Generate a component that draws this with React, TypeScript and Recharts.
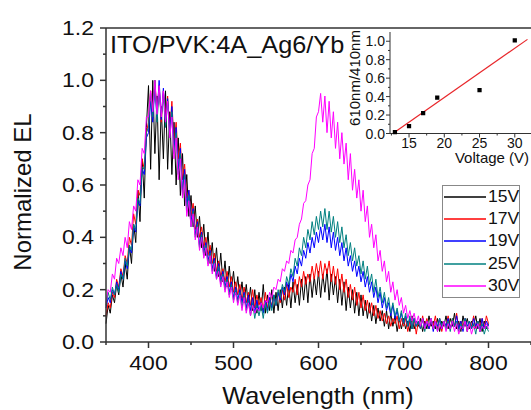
import React from "react";
import { LineChart, Line, XAxis, YAxis, Legend, Label, ReferenceLine, ComposedChart, Scatter, ZAxis } from "recharts";

const FONT = "'Liberation Sans', Arial, sans-serif";
const AXIS = "#333";
const TXT = "#111";

// wavelength grid, 2.5 nm steps (350 - 800 nm)
const wavelength = Array.from({ length: 181 }, (_, i) => 350 + i * 2.5);

const el15V = [
  0.07, 0.14, 0.11, 0.18, 0.15, 0.22, 0.18, 0.26, 0.21, 0.3, 0.24, 0.37, 0.3, 0.45, 0.38, 0.58, 0.46, 0.7, 0.55, 0.82,
  0.98, 0.66, 1.0, 0.72, 0.94, 0.62, 0.9, 0.7, 0.96, 0.66, 0.88, 0.64, 0.84, 0.6, 0.78, 0.56, 0.72, 0.52, 0.64, 0.48,
  0.56, 0.44, 0.52, 0.4, 0.48, 0.36, 0.45, 0.33, 0.42, 0.3, 0.38, 0.27, 0.36, 0.25, 0.34, 0.23, 0.31, 0.21, 0.29, 0.2,
  0.27, 0.18, 0.25, 0.17, 0.23, 0.15, 0.22, 0.14, 0.21, 0.12, 0.2, 0.11, 0.19, 0.12, 0.22, 0.11, 0.18, 0.12, 0.2, 0.11,
  0.19, 0.12, 0.2, 0.13, 0.21, 0.14, 0.22, 0.13, 0.23, 0.15, 0.22, 0.14, 0.24, 0.16, 0.25, 0.15, 0.26, 0.17, 0.25, 0.18,
  0.27, 0.17, 0.26, 0.19, 0.28, 0.16, 0.26, 0.18, 0.25, 0.15, 0.24, 0.14, 0.23, 0.12, 0.21, 0.13, 0.2, 0.11, 0.19, 0.1,
  0.18, 0.1, 0.16, 0.09, 0.15, 0.08, 0.14, 0.07, 0.13, 0.08, 0.12, 0.06, 0.12, 0.05, 0.11, 0.06, 0.1, 0.04, 0.09, 0.05,
  0.09, 0.05, 0.08, 0.04, 0.1, 0.05, 0.08, 0.06, 0.09, 0.04, 0.08, 0.05, 0.1, 0.06, 0.08, 0.05, 0.09, 0.04, 0.08, 0.06,
  0.1, 0.05, 0.09, 0.06, 0.11, 0.05, 0.08, 0.04, 0.1, 0.06, 0.09, 0.05, 0.08, 0.06, 0.1, 0.05, 0.09, 0.04, 0.08, 0.05,
  0.07,
];
const el17V = [
  0.1, 0.15, 0.13, 0.19, 0.17, 0.24, 0.21, 0.28, 0.25, 0.33, 0.3, 0.4, 0.37, 0.49, 0.45, 0.58, 0.56, 0.7, 0.66, 0.8,
  0.84, 0.96, 0.86, 1.0, 0.88, 0.98, 0.84, 0.96, 0.86, 0.94, 0.8, 0.92, 0.76, 0.84, 0.7, 0.76, 0.62, 0.68, 0.55, 0.58,
  0.48, 0.53, 0.43, 0.47, 0.4, 0.44, 0.36, 0.4, 0.33, 0.37, 0.3, 0.34, 0.27, 0.31, 0.25, 0.28, 0.23, 0.27, 0.21, 0.25,
  0.19, 0.23, 0.18, 0.22, 0.16, 0.21, 0.15, 0.19, 0.14, 0.2, 0.13, 0.18, 0.14, 0.17, 0.12, 0.19, 0.13, 0.17, 0.14, 0.18,
  0.14, 0.19, 0.15, 0.2, 0.16, 0.22, 0.17, 0.21, 0.19, 0.24, 0.18, 0.25, 0.21, 0.27, 0.22, 0.26, 0.23, 0.29, 0.24, 0.3,
  0.25, 0.31, 0.24, 0.3, 0.26, 0.31, 0.23, 0.29, 0.22, 0.28, 0.2, 0.26, 0.19, 0.24, 0.17, 0.22, 0.16, 0.21, 0.14, 0.19,
  0.13, 0.18, 0.12, 0.16, 0.11, 0.15, 0.1, 0.14, 0.09, 0.12, 0.08, 0.11, 0.07, 0.1, 0.06, 0.09, 0.07, 0.1, 0.05, 0.09,
  0.06, 0.09, 0.04, 0.08, 0.05, 0.09, 0.03, 0.08, 0.05, 0.1, 0.06, 0.09, 0.05, 0.08, 0.06, 0.1, 0.05, 0.09, 0.04, 0.08,
  0.06, 0.1, 0.05, 0.09, 0.06, 0.11, 0.05, 0.08, 0.06, 0.09, 0.04, 0.08, 0.06, 0.1, 0.05, 0.08, 0.06, 0.09, 0.05, 0.1,
  0.07,
];
const el19V = [
  0.13, 0.17, 0.15, 0.2, 0.18, 0.23, 0.2, 0.27, 0.24, 0.31, 0.28, 0.36, 0.34, 0.44, 0.42, 0.54, 0.52, 0.66, 0.64, 0.78,
  0.8, 0.92, 0.84, 0.98, 0.86, 1.0, 0.85, 0.97, 0.84, 0.93, 0.8, 0.9, 0.74, 0.82, 0.66, 0.74, 0.58, 0.66, 0.52, 0.58,
  0.46, 0.51, 0.41, 0.46, 0.37, 0.42, 0.34, 0.38, 0.31, 0.35, 0.28, 0.32, 0.25, 0.3, 0.23, 0.27, 0.21, 0.25, 0.19, 0.23,
  0.17, 0.21, 0.16, 0.2, 0.15, 0.19, 0.13, 0.18, 0.12, 0.17, 0.11, 0.16, 0.12, 0.15, 0.11, 0.16, 0.12, 0.17, 0.13, 0.18,
  0.14, 0.19, 0.16, 0.21, 0.18, 0.23, 0.2, 0.26, 0.23, 0.29, 0.26, 0.32, 0.29, 0.35, 0.32, 0.38, 0.34, 0.4, 0.36, 0.42,
  0.38, 0.44, 0.39, 0.45, 0.38, 0.44, 0.36, 0.42, 0.35, 0.4, 0.33, 0.38, 0.31, 0.36, 0.29, 0.33, 0.27, 0.31, 0.25, 0.29,
  0.23, 0.27, 0.21, 0.25, 0.19, 0.23, 0.17, 0.21, 0.15, 0.19, 0.13, 0.17, 0.12, 0.15, 0.1, 0.14, 0.09, 0.12, 0.08, 0.11,
  0.07, 0.1, 0.06, 0.09, 0.05, 0.09, 0.06, 0.08, 0.05, 0.09, 0.06, 0.08, 0.05, 0.09, 0.04, 0.08, 0.06, 0.09, 0.05, 0.08,
  0.06, 0.09, 0.05, 0.08, 0.06, 0.1, 0.05, 0.08, 0.04, 0.09, 0.06, 0.08, 0.05, 0.09, 0.06, 0.08, 0.04, 0.09, 0.05, 0.08,
  0.06,
];
const el25V = [
  0.14, 0.19, 0.16, 0.21, 0.18, 0.22, 0.19, 0.26, 0.24, 0.32, 0.29, 0.37, 0.35, 0.45, 0.43, 0.55, 0.53, 0.67, 0.66, 0.8,
  0.82, 0.95, 0.86, 1.0, 0.84, 0.96, 0.86, 0.94, 0.82, 0.92, 0.78, 0.88, 0.72, 0.8, 0.64, 0.72, 0.56, 0.64, 0.5, 0.56,
  0.44, 0.5, 0.4, 0.45, 0.36, 0.41, 0.33, 0.37, 0.3, 0.34, 0.27, 0.31, 0.24, 0.29, 0.22, 0.26, 0.2, 0.24, 0.18, 0.22,
  0.16, 0.2, 0.15, 0.19, 0.13, 0.18, 0.12, 0.16, 0.1, 0.15, 0.09, 0.14, 0.1, 0.14, 0.09, 0.15, 0.11, 0.16, 0.12, 0.18,
  0.14, 0.2, 0.17, 0.22, 0.19, 0.25, 0.22, 0.28, 0.25, 0.32, 0.29, 0.36, 0.33, 0.4, 0.36, 0.43, 0.39, 0.46, 0.41, 0.48,
  0.43, 0.5, 0.44, 0.51, 0.43, 0.5, 0.42, 0.48, 0.4, 0.46, 0.38, 0.44, 0.36, 0.41, 0.33, 0.38, 0.31, 0.36, 0.29, 0.33,
  0.26, 0.31, 0.24, 0.29, 0.22, 0.26, 0.19, 0.24, 0.17, 0.21, 0.15, 0.19, 0.13, 0.17, 0.11, 0.15, 0.1, 0.13, 0.08, 0.12,
  0.07, 0.11, 0.06, 0.1, 0.05, 0.09, 0.06, 0.08, 0.05, 0.09, 0.04, 0.08, 0.06, 0.09, 0.05, 0.08, 0.04, 0.09, 0.06, 0.08,
  0.05, 0.08, 0.04, 0.09, 0.06, 0.08, 0.04, 0.07, 0.05, 0.09, 0.04, 0.08, 0.05, 0.07, 0.03, 0.08, 0.04, 0.07, 0.03, 0.06,
  0.04,
];
const el30V = [
  0.15, 0.2, 0.19, 0.26, 0.24, 0.32, 0.3, 0.36, 0.33, 0.4, 0.36, 0.46, 0.43, 0.52, 0.5, 0.62, 0.6, 0.74, 0.72, 0.86,
  0.86, 0.96, 0.88, 1.0, 0.87, 0.98, 0.86, 0.96, 0.84, 0.92, 0.78, 0.86, 0.7, 0.78, 0.62, 0.7, 0.55, 0.62, 0.48, 0.54,
  0.44, 0.49, 0.39, 0.44, 0.35, 0.4, 0.32, 0.36, 0.29, 0.33, 0.26, 0.3, 0.24, 0.27, 0.21, 0.25, 0.19, 0.23, 0.17, 0.21,
  0.15, 0.19, 0.14, 0.18, 0.12, 0.17, 0.11, 0.15, 0.1, 0.14, 0.11, 0.13, 0.12, 0.15, 0.13, 0.16, 0.15, 0.19, 0.17, 0.21,
  0.2, 0.24, 0.23, 0.28, 0.27, 0.31, 0.3, 0.35, 0.34, 0.39, 0.4, 0.45, 0.47, 0.53, 0.54, 0.6, 0.62, 0.72, 0.74, 0.86,
  0.88, 0.95, 0.84, 0.94, 0.8, 0.92, 0.78, 0.88, 0.74, 0.84, 0.7, 0.8, 0.68, 0.76, 0.62, 0.72, 0.58, 0.66, 0.55, 0.62,
  0.5, 0.58, 0.46, 0.52, 0.4, 0.45, 0.36, 0.41, 0.31, 0.35, 0.27, 0.31, 0.23, 0.27, 0.19, 0.23, 0.16, 0.2, 0.14, 0.17,
  0.11, 0.14, 0.09, 0.12, 0.08, 0.11, 0.07, 0.1, 0.06, 0.09, 0.05, 0.08, 0.06, 0.09, 0.05, 0.08, 0.04, 0.07, 0.05, 0.08,
  0.04, 0.07, 0.05, 0.08, 0.04, 0.07, 0.03, 0.06, 0.05, 0.08, 0.04, 0.07, 0.03, 0.06, 0.05, 0.07, 0.04, 0.06, 0.05, 0.07,
  0.05,
];

const seriesNames = ["15V", "17V", "19V", "25V", "30V"];
const seriesColors = ["#000000", "#ff0000", "#0000ff", "#008080", "#ff00ff"];
const seriesValues = [el15V, el17V, el19V, el25V, el30V];

const xTicks = [350, 400, 450, 500, 550, 600, 650, 700, 750, 800, 850];
const yTicks = [0, 0.1, 0.2, 0.3, 0.4, 0.5, 0.6, 0.7, 0.8, 0.9, 1.0, 1.1, 1.2];

// inset: 610nm/410nm ratio vs voltage
const voltage = [13, 15, 17, 19, 25, 30];
const ratio = [0.015, 0.08, 0.22, 0.39, 0.47, 1.01];
const fitVoltage = [12.7, 31.8];
const fitRatio = [0.0, 1.02];
const insetXTicks = [12.5, 15, 17.5, 20, 22.5, 25, 27.5, 30];
const insetYTicks = [0, 0.1, 0.2, 0.3, 0.4, 0.5, 0.6, 0.7, 0.8, 0.9, 1.0];

const rows = wavelength.map((wl, i) => {
  const r: any = { wl };
  seriesNames.forEach((n, k) => (r[n] = seriesValues[k][i]));
  return r;
});
const insetPoints = voltage.map((v, i) => ({ v, r: ratio[i] }));
const fitPoints = fitVoltage.map((v, i) => ({ v, r: fitRatio[i] }));

const MainXTick = ({ x, y, payload }: any) => {
  const v = payload.value;
  const major = v % 100 === 0;
  return (
    <g>
      <line x1={x} x2={x} y1={y} y2={y + (major ? 6 : 3)} stroke={AXIS} strokeWidth={1.5} />
      {major && (
        <text transform={`translate(${x},${y + 28}) scale(1.15,1)`} textAnchor="middle" fontSize={20} fill={TXT} fontFamily={FONT}>
          {v}
        </text>
      )}
    </g>
  );
};

const MainYTick = ({ x, y, payload }: any) => {
  const v = payload.value;
  const major = Math.round(v * 10) % 2 === 0;
  return (
    <g>
      <line x1={x} x2={x - (major ? 6 : 3)} y1={y} y2={y} stroke={AXIS} strokeWidth={1.5} />
      {major && (
        <text transform={`translate(${x - 12},${y + 7}) scale(1.15,1)`} textAnchor="end" fontSize={20} fill={TXT} fontFamily={FONT}>
          {v.toFixed(1)}
        </text>
      )}
    </g>
  );
};

const InsetXTick = ({ x, y, payload }: any) => {
  const v = payload.value;
  const major = v % 5 === 0;
  return (
    <g>
      <line x1={x} x2={x} y1={y} y2={y + (major ? 4 : 2)} stroke={AXIS} strokeWidth={1} />
      {major && (
        <text x={x} y={y + 14} textAnchor="middle" fontSize={14} fill={TXT} fontFamily={FONT}>
          {v}
        </text>
      )}
    </g>
  );
};

const InsetYTick = ({ x, y, payload }: any) => {
  const v = payload.value;
  const major = Math.round(v * 10) % 2 === 0;
  return (
    <g>
      <line x1={x} x2={x - (major ? 4 : 2)} y1={y} y2={y} stroke={AXIS} strokeWidth={1} />
      {major && (
        <text x={x - 5} y={y + 5} textAnchor="end" fontSize={14} fill={TXT} fontFamily={FONT}>
          {v.toFixed(1)}
        </text>
      )}
    </g>
  );
};

const renderLegend = ({ payload }: any) => (
  <div style={{ width: 78, border: "1px solid #888", boxSizing: "border-box", fontFamily: FONT, background: "#fff" }}>
    {(payload || []).map((e: any) => (
      <div key={e.value} style={{ display: "flex", alignItems: "center", height: 22.2 }}>
        <svg width={44} height={4} style={{ marginLeft: 1 }}>
          <line x1={0} x2={42} y1={2} y2={2} stroke={e.color} strokeWidth={1.5} />
        </svg>
        <span style={{ fontSize: 16, color: TXT, display: "inline-block", transform: "scaleX(1.1)", transformOrigin: "left center" }}>{e.value}</span>
      </div>
    ))}
  </div>
);

export default function App() {
  return (
    <div style={{ position: "absolute", left: 0, top: 0, width: 531, height: 410, background: "#fff", overflow: "hidden" }}>
      <LineChart width={531} height={410} data={rows} margin={{ top: 28, right: 0, bottom: 0, left: 0 }}>
        <XAxis
          dataKey="wl"
          type="number"
          domain={[350, 850]}
          ticks={xTicks}
          interval={0}
          height={68}
          tick={<MainXTick />}
          tickLine={false}
          tickSize={0}
          tickMargin={0}
          axisLine={{ stroke: AXIS, strokeWidth: 1.5 }}
        >
          <Label
            content={() => (
              <text transform="translate(318,404) scale(1.1,1)" textAnchor="middle" fontSize={23} fill={TXT} fontFamily={FONT}>
                Wavelength (nm)
              </text>
            )}
          />
        </XAxis>
        <YAxis
          type="number"
          domain={[0, 1.2]}
          ticks={yTicks}
          interval={0}
          width={106}
          tick={<MainYTick />}
          tickLine={false}
          tickSize={0}
          tickMargin={0}
          axisLine={{ stroke: AXIS, strokeWidth: 1.5 }}
        >
          <Label
            content={() => (
              <text transform="translate(31,192) rotate(-90)" textAnchor="middle" fontSize={24} fill={TXT} fontFamily={FONT}>
                Normalized EL
              </text>
            )}
          />
        </YAxis>
        <ReferenceLine y={1.2} stroke={AXIS} strokeWidth={1.5}>
          <Label
            content={() => (
              <text transform="translate(110,53) scale(1.1,1)" textAnchor="start" fontSize={23} fill={TXT} fontFamily={FONT}>
                ITO/PVK:4A_Ag6/Yb
              </text>
            )}
          />
        </ReferenceLine>
        <Legend
          layout="vertical"
          align="center"
          verticalAlign="middle"
          content={renderLegend}
          wrapperStyle={{ left: 442, top: 185, width: 78 }}
        />
        {seriesNames.map((n, k) => (
          <Line key={n} type="linear" dataKey={n} name={n} stroke={seriesColors[k]} strokeWidth={1} dot={false} isAnimationActive={false} />
        ))}
      </LineChart>

      <div style={{ position: "absolute", left: 340, top: 20 }}>
        <ComposedChart width={191} height={150} margin={{ top: 12, right: 0, bottom: 0, left: 0 }}>
          <XAxis
            dataKey="v"
            type="number"
            domain={[12.3, 32.3]}
            ticks={insetXTicks}
            interval={0}
            height={36.5}
            tick={<InsetXTick />}
            tickLine={false}
            tickSize={0}
            tickMargin={0}
            axisLine={{ stroke: AXIS, strokeWidth: 1 }}
            allowDataOverflow
          >
            <Label
              content={() => (
                <text x={152} y={143} textAnchor="middle" fontSize={15} fill={TXT} fontFamily={FONT}>
                  Voltage (V)
                </text>
              )}
            />
          </XAxis>
          <YAxis
            dataKey="r"
            type="number"
            domain={[0, 1.1]}
            ticks={insetYTicks}
            interval={0}
            width={50}
            tick={<InsetYTick />}
            tickLine={false}
            tickSize={0}
            tickMargin={0}
            axisLine={{ stroke: AXIS, strokeWidth: 1 }}
          >
            <Label
              content={() => (
                <text transform="translate(20,58) rotate(-90)" textAnchor="middle" fontSize={15} fill={TXT} fontFamily={FONT}>
                  610nm/410nm
                </text>
              )}
            />
          </YAxis>
          <ZAxis range={[18, 18]} />
          <Scatter data={insetPoints} dataKey="r" fill="#000" shape="square" isAnimationActive={false} />
          <Line data={fitPoints} dataKey="r" type="linear" stroke="#e8262a" strokeWidth={1.2} dot={false} isAnimationActive={false} />
        </ComposedChart>
      </div>
    </div>
  );
}
